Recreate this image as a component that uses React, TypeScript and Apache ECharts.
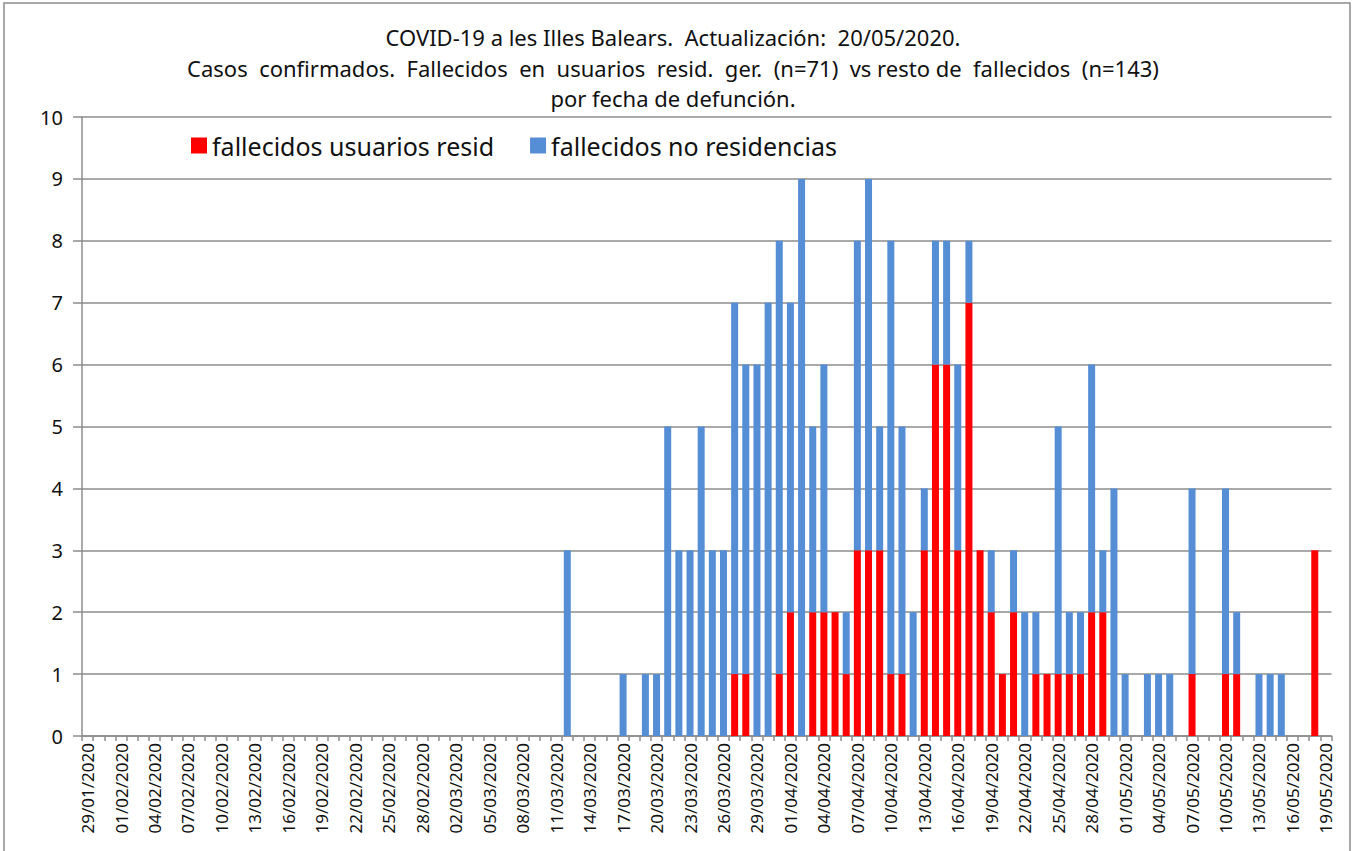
import React, { useEffect, useRef } from "react";
import * as echarts from "echarts";

const titleLines = [
  "COVID-19 a les Illes Balears.  Actualización:  20/05/2020.",
  "Casos  confirmados.  Fallecidos  en  usuarios  resid.  ger.  (n=71)  vs resto de  fallecidos  (n=143)",
  "por fecha de defunción.",
];

const seriesNames = ["fallecidos usuarios resid", "fallecidos no residencias"];
const seriesColors = ["#FF0000", "#558ED5"];

// first day shown on the date axis and number of days
const firstDay = [2020, 1, 29];
const dayCount = 112;

// days with deaths (dd/mm/yyyy)
const deathDays = [
  "12/03/2020", "17/03/2020", "19/03/2020", "20/03/2020", "21/03/2020", "22/03/2020",
  "23/03/2020", "24/03/2020", "25/03/2020", "26/03/2020", "27/03/2020", "28/03/2020",
  "29/03/2020", "30/03/2020", "31/03/2020", "01/04/2020", "02/04/2020", "03/04/2020",
  "04/04/2020", "05/04/2020", "06/04/2020", "07/04/2020", "08/04/2020", "09/04/2020",
  "10/04/2020", "11/04/2020", "12/04/2020", "13/04/2020", "14/04/2020", "15/04/2020",
  "16/04/2020", "17/04/2020", "18/04/2020", "19/04/2020", "20/04/2020", "21/04/2020",
  "22/04/2020", "23/04/2020", "24/04/2020", "25/04/2020", "26/04/2020", "27/04/2020",
  "28/04/2020", "29/04/2020", "30/04/2020", "01/05/2020", "03/05/2020", "04/05/2020",
  "05/05/2020", "07/05/2020", "10/05/2020", "11/05/2020", "13/05/2020", "14/05/2020",
  "15/05/2020", "18/05/2020",
];
const residDeaths = [
  0, 0, 0, 0, 0, 0,
  0, 0, 0, 0, 1, 1,
  0, 0, 1, 2, 0, 2,
  2, 2, 1, 3, 3, 3,
  1, 1, 0, 3, 6, 6,
  3, 7, 3, 2, 1, 2,
  0, 1, 1, 1, 1, 1,
  2, 2, 0, 0, 0, 0,
  0, 1, 1, 1, 0, 0,
  0, 3,
];
const otherDeaths = [
  3, 1, 1, 1, 5, 3,
  3, 5, 3, 3, 6, 5,
  6, 7, 7, 5, 9, 3,
  4, 0, 1, 5, 6, 2,
  7, 4, 2, 1, 2, 2,
  3, 1, 0, 1, 0, 1,
  2, 1, 0, 4, 1, 1,
  4, 1, 4, 1, 1, 1,
  1, 3, 3, 1, 1, 1,
  1, 0,
];

const yTicks = [0, 1, 2, 3, 4, 5, 6, 7, 8, 9, 10];

function pad(n: number) {
  return n < 10 ? "0" + n : String(n);
}

function buildCategories(): string[] {
  const out: string[] = [];
  const d = new Date(firstDay[0], firstDay[1] - 1, firstDay[2]);
  for (let i = 0; i < dayCount; i++) {
    out.push(pad(d.getDate()) + "/" + pad(d.getMonth() + 1) + "/" + d.getFullYear());
    d.setDate(d.getDate() + 1);
  }
  return out;
}

export default function App() {
  const ref = useRef<HTMLDivElement>(null);
  useEffect(() => {
    if (!ref.current) return;
    const chart = echarts.init(ref.current, null, { renderer: "svg" });
    const categories = buildCategories();
    const toSeries = (vals: number[]) =>
      categories.map((c) => {
        const k = deathDays.indexOf(c);
        if (k < 0) return "-";
        const v = vals[k];
        return v === 0 ? "-" : v;
      });
    const font = "'Noto Sans', 'Open Sans', sans-serif";
    chart.setOption({
      animation: false,
      backgroundColor: "#ffffff",
      textStyle: { fontFamily: font },
      title: {
        text: titleLines.join("\n"),
        left: 668,
        textAlign: "center",
        top: 17,
        textStyle: {
          fontFamily: font,
          fontSize: 22,
          fontWeight: "normal",
          color: "#111111",
          lineHeight: 30.5,
        },
      },
      legend: {
        left: 186,
        top: 128,
        icon: "rect",
        itemWidth: 16,
        itemHeight: 16,
        itemGap: 36,
        textStyle: { fontFamily: font, fontSize: 25, color: "#111111" },
        data: seriesNames,
      },
      graphic: [
        {
          type: "rect",
          shape: { x: 4, y: 3, width: 1346, height: 870 },
          style: { fill: "none", stroke: "#8c8c8c", lineWidth: 1.5 },
          silent: true,
        },
      ],
      grid: { left: 82, right: 29.5, top: 117, bottom: 115, containLabel: false },
      xAxis: {
        type: "category",
        data: categories,
        boundaryGap: true,
        axisLine: { show: true, lineStyle: { color: "#8c8c8c", width: 1.5 } },
        axisTick: { show: true, interval: 0, length: 5, lineStyle: { color: "#8c8c8c", width: 1.5 } },
        axisLabel: {
          interval: 2,
          rotate: 90,
          fontSize: 17,
          color: "#111111",
          margin: 7,
          fontFamily: font,
        },
        splitLine: { show: false },
      },
      yAxis: {
        type: "value",
        min: yTicks[0],
        max: yTicks[yTicks.length - 1],
        interval: 1,
        axisLine: { show: true, lineStyle: { color: "#8c8c8c", width: 1.5 } },
        axisTick: { show: true, length: 9, lineStyle: { color: "#8c8c8c", width: 1.5 } },
        axisLabel: { fontSize: 20, color: "#111111", margin: 19, fontFamily: font },
        splitLine: { show: true, lineStyle: { color: "#8c8c8c", width: 1.5 } },
      },
      series: [
        {
          name: seriesNames[0],
          type: "bar",
          stack: "total",
          barWidth: 7,
          itemStyle: { color: seriesColors[0] },
          data: toSeries(residDeaths),
        },
        {
          name: seriesNames[1],
          type: "bar",
          stack: "total",
          barWidth: 7,
          itemStyle: { color: seriesColors[1] },
          data: toSeries(otherDeaths),
        },
      ],
    });
    return () => chart.dispose();
  }, []);
  return (
    <div
      ref={ref}
      style={{ position: "absolute", left: 0, top: 0, width: 1361, height: 851 }}
    />
  );
}
